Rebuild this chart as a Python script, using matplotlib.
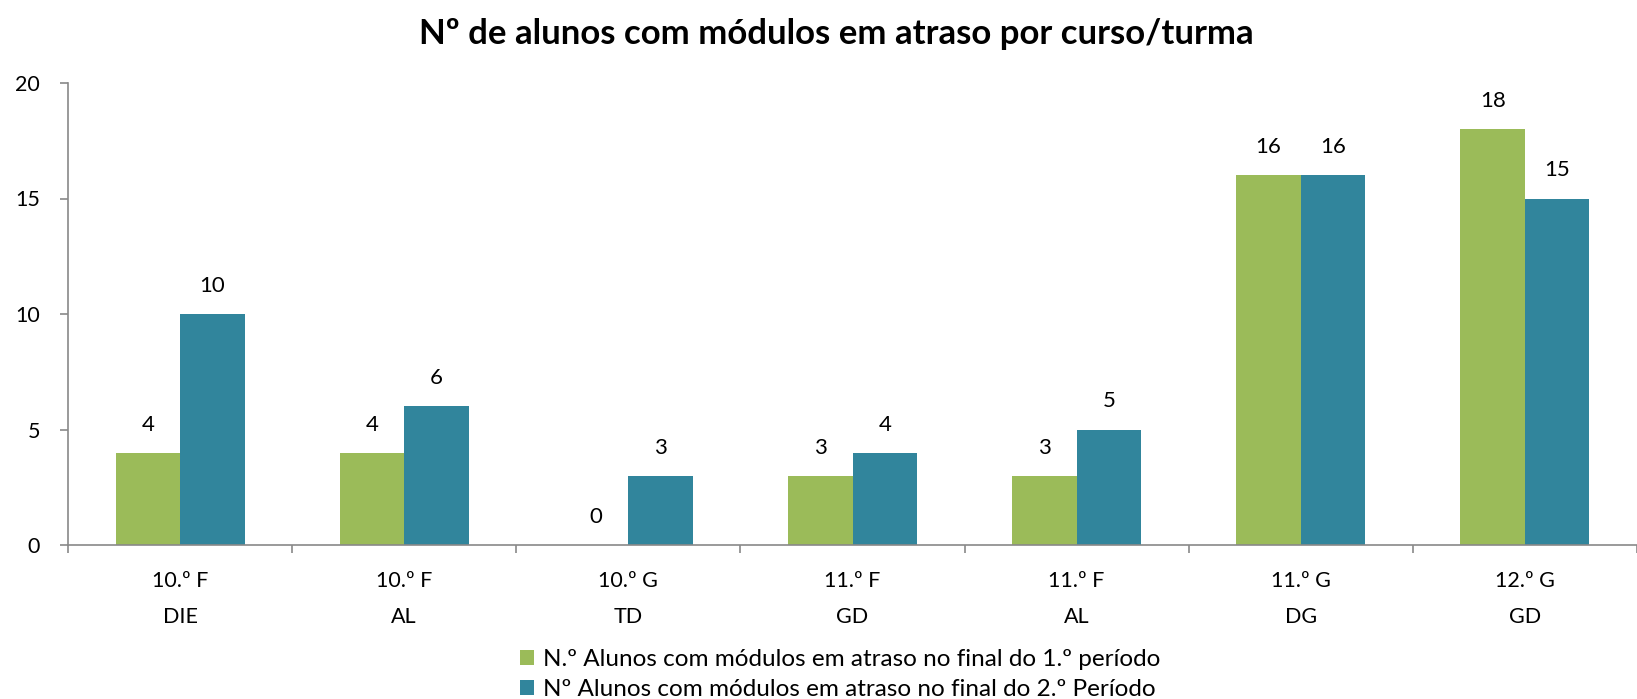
import matplotlib
matplotlib.use("Agg")
import matplotlib.pyplot as plt
import numpy as np

plt.rcParams['font.family'] = ['Lato', 'DejaVu Sans']

categories = ["10.º F\nDIE", "10.º F\nAL", "10.º G\nTD", "11.º F\nGD",
              "11.º F\nAL", "11.º G\nDG", "12.º G\nGD"]
periodo1 = [4, 4, 0, 3, 3, 16, 18]
periodo2 = [10, 6, 3, 4, 5, 16, 15]
labels = ["N.º Alunos com módulos em atraso no final do 1.º período",
          "Nº Alunos com módulos em atraso no final do 2.º Período"]
colors = ["#9BBB59", "#31859C"]

fig = plt.figure(figsize=(16.37, 6.99), dpi=100)
ax = fig.add_axes([68 / 1637, 1 - 545 / 699, 1 - 68 / 1637, (545 - 83) / 699])

x = np.arange(len(categories))
w = 0.2875
b1 = ax.bar(x - w / 2, periodo1, w, color=colors[0], label=labels[0])
b2 = ax.bar(x + w / 2, periodo2, w, color=colors[1], label=labels[1])
for bars, vals in ((b1, periodo1), (b2, periodo2)):
    for b, v in zip(bars, vals):
        ax.annotate(str(v), (b.get_x() + b.get_width() / 2, v), xytext=(0, 13),
                    textcoords="offset points", ha="center", va="bottom", fontsize=16)

ax.set_xlim(-0.5, len(categories) - 0.5)
ax.set_ylim(0, 20)
ax.set_yticks([0, 5, 10, 15, 20])
ax.set_xticks(x)
ax.set_xticklabels(categories, fontsize=15.5, linespacing=1.95)
ax.set_xticks(np.arange(-0.5, len(categories)), minor=True)
ax.tick_params(axis="x", which="major", length=0, pad=19)
ax.tick_params(axis="x", which="minor", length=6, color="#898989", width=1.2)
ax.tick_params(axis="y", length=6, color="#898989", width=1.2, labelsize=15.5, pad=14)
for s in ("top", "right"):
    ax.spines[s].set_visible(False)
for s in ("left", "bottom"):
    ax.spines[s].set_color("#898989")
    ax.spines[s].set_linewidth(1.2)

fig.suptitle("Nº de alunos com módulos em atraso por curso/turma", x=0.511, y=0.974,
             fontsize=25, fontweight="bold")
fig.legend(loc="lower center", bbox_to_anchor=(0.513, -0.033), ncol=1, frameon=False,
           fontsize=17.5, handlelength=0.6, handleheight=0.6, handletextpad=0.35,
           labelspacing=0.38)

fig.savefig("out.png", dpi=100)
